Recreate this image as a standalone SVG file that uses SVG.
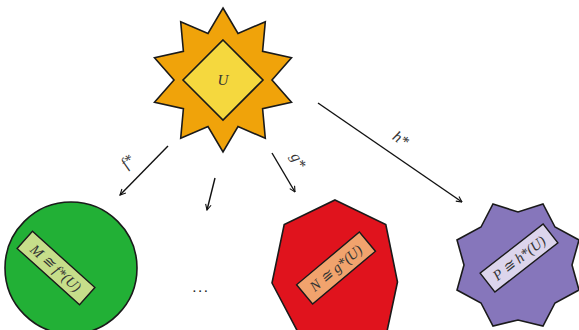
<svg xmlns="http://www.w3.org/2000/svg" width="579" height="330" viewBox="0 0 579 330">
<defs>
<style>
.sh{stroke:#1a1a1a;stroke-width:1.6;stroke-linejoin:miter}
.bx{stroke:#1a1a1a;stroke-width:1.4}
.m{font-family:"Liberation Serif","DejaVu Serif",serif;font-style:italic;fill:#333}
.cn{stroke:#111;stroke-width:1.4;fill:none}
</style>
<marker id="ah" viewBox="0 0 10 10" refX="9" refY="5" markerWidth="7" markerHeight="7" orient="auto" markerUnits="userSpaceOnUse">
<path d="M1,1 L9,5 L1,9" fill="none" stroke="#111" stroke-width="1.6"/>
</marker>
</defs>
<rect width="579" height="330" fill="#fff"/>
<g id="U">
<polygon class="sh" fill="#f0a30a" points="223,8 238,33.4 265.3,21.7 262.6,51.3 291.5,57.8 272,80 291.5,102.2 262.6,108.7 265.3,138.3 238,126.6 223,152 208,126.6 180.7,138.3 183.4,108.7 154.5,102.2 174,80 154.5,57.8 183.4,51.3 180.7,21.7 208,33.4"/>
<polygon class="sh" fill="#f5d83e" points="223,40 263,80 223,120 183,80"/>
<text class="m" x="223" y="85" font-size="15" text-anchor="middle">U</text>
</g>
<g id="M">
<circle class="sh" cx="71" cy="268" r="66" fill="#22b036"/>
<g transform="translate(56,268) rotate(42)">
<rect class="bx" x="-42" y="-11.5" width="84" height="23" fill="#c6de8a"/>
<text class="m" x="0" y="5" font-size="14.5" text-anchor="middle">M ≅ f*(U)</text>
</g>
</g>
<g id="N">
<polygon class="sh" fill="#e0131d" points="335,200 385.8,224.5 397.5,282 386,336 300,336 272,283 284.2,224.5"/>
<g transform="translate(336,268) rotate(-40)">
<rect class="bx" x="-41" y="-12.5" width="82" height="25" fill="#f1a36d"/>
<text class="m" x="0" y="5" font-size="14.5" text-anchor="middle">N ≅ g*(U)</text>
</g>
</g>
<g id="P">
<polygon class="sh" fill="#8676bb" points="493,204 518,212 543,204 555,227 579,240 572,265 579,290 555,303 543,326 518,320 493,326 481,303 457,290 464,265 457,240 481,227"/>
<g transform="translate(519,258) rotate(-38)">
<rect class="bx" x="-40" y="-12" width="80" height="24" fill="#dcd5ec"/>
<text class="m" x="0" y="5" font-size="14.5" text-anchor="middle">P ≅ h*(U)</text>
</g>
</g>
<g id="connectors">
<line class="cn" x1="168" y1="146" x2="120" y2="195" marker-end="url(#ah)"/>
<line class="cn" x1="215" y1="178" x2="207" y2="210" marker-end="url(#ah)"/>
<line class="cn" x1="272" y1="153" x2="295" y2="192" marker-end="url(#ah)"/>
<line class="cn" x1="318" y1="103" x2="462" y2="202" marker-end="url(#ah)"/>
<text class="m" font-size="15.5" text-anchor="middle" transform="translate(131,165) rotate(-45)">f*</text>
<text class="m" font-size="15.5" text-anchor="middle" transform="translate(294,163) rotate(60)">g*</text>
<text class="m" font-size="15.5" text-anchor="middle" transform="translate(398,143) rotate(34)">h*</text>
</g>
<text x="201" y="292" font-size="15" text-anchor="middle" font-family="Liberation Serif, serif" fill="#222" letter-spacing="2">...</text>
</svg>
